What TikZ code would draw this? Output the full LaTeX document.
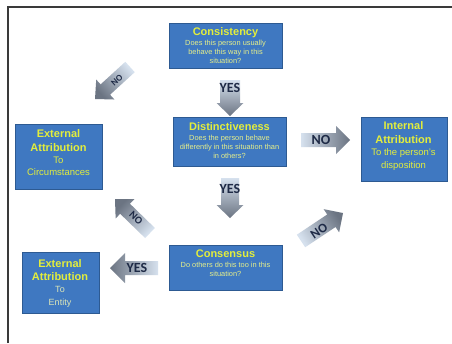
\documentclass[tikz,border=0pt]{standalone}
\usepackage{fontspec}
\setmainfont{Liberation Sans}
\newfontfamily\lblfont{Carlito}
\usetikzlibrary{calc}
\definecolor{boxfill}{HTML}{3F78C1}
\definecolor{boxline}{HTML}{2D5A92}
\definecolor{ttl}{HTML}{E3EE3C}
\definecolor{bdy}{HTML}{E6EF8A}
\definecolor{pale}{HTML}{DCE6B8}
\definecolor{arrtail}{HTML}{D6E1EE}
\definecolor{arrtip}{HTML}{6B7482}
\definecolor{lbl}{HTML}{1E2A46}
\definecolor{frameclr}{HTML}{3A3A3A}
\newcommand\ttlline[1]{{\fontsize{11}{11}\selectfont\bfseries\color{ttl}#1}}
\newcommand\blockarrow[6]{%
  \coordinate (#2-base) at ($(#2)!#5!(#1)$);
  \path[barrow, shading angle=#6]
    ($(#1)!#3!90:(#2)$) -- ($(#2-base)!#3!90:(#2)$) -- ($(#2-base)!#4!90:(#2)$)
    -- (#2) -- ($(#2-base)!#4!-90:(#2)$) -- ($(#2-base)!#3!-90:(#2)$)
    -- ($(#1)!#3!-90:(#2)$) -- cycle;
}
\begin{document}
\begin{tikzpicture}[x=1pt,y=-1pt,
  box/.style={draw=boxline, line width=0.8pt, fill=boxfill, inner sep=0pt},
  boxtext/.style={align=center, inner sep=0pt, text=bdy, font=\fontsize{7.4}{8.7}\selectfont},
  bigtext/.style={align=center, inner sep=0pt, text=ttl, font=\fontsize{9.5}{12.2}\selectfont},
  arrlabel/.style={text=lbl, font=\lblfont\bfseries\fontsize{14}{14}\selectfont, inner sep=0pt},
  barrow/.style={bottom color=arrtail, top color=arrtip, draw=none},
]
\fill[white] (0,0) rectangle (452,343);
\useasboundingbox (0,0) rectangle (452,343);
\coordinate (f1) at (8,343);
\coordinate (f2) at (8,7);
\coordinate (f3) at (452,7);
\draw[frameclr, line width=2pt] (f1) -- (f2) -- (f3);

% boxes
\node[box, minimum width=113pt, minimum height=45pt] (cons) at (225.5,45.5) {};
\node[box, minimum width=113pt, minimum height=49pt] (dist) at (229.5,141.5) {};
\node[box, minimum width=113pt, minimum height=45pt] (conse) at (225.5,267.5) {};
\node[box, minimum width=87pt, minimum height=65pt] (extc) at (58.5,156.5) {};
\node[box, minimum width=86pt, minimum height=64pt] (intl) at (404,149) {};
\node[box, minimum width=77pt, minimum height=61pt] (exte) at (60.5,282.5) {};

% box texts
\node[boxtext] (cons-t) at (225.5,45.5) {\ttlline{Consistency}\\[1.3pt]Does this person usually\\behave this way in this\\situation?};
\node[boxtext] (dist-t) at (229.5,140.5) {\ttlline{Distinctiveness}\\[1.3pt]Does the person behave\\differently in this situation than\\in others?};
\node[boxtext] (conse-t) at (225.5,263.5) {\ttlline{Consensus}\\[1.3pt]Do others do this too in this\\situation?};
\node[bigtext] (extc-t) at (58.5,153) {\ttlline{External}\\[1.5pt]\ttlline{Attribution}\\To\\Circumstances};
\node[bigtext] (intl-t) at (403.5,146) {\ttlline{Internal}\\[1.5pt]\ttlline{Attribution}\\To the person's\\disposition};
\node[bigtext, text=pale, font=\fontsize{9}{12.2}\selectfont] (exte-t) at (60,283) {\ttlline{External}\\[1.5pt]\ttlline{Attribution}\\To\\Entity};

% block arrows
\coordinate (a1t) at (230,80);  \coordinate (a1h) at (230,116);
\coordinate (a2t) at (230,178); \coordinate (a2h) at (230,218);
\coordinate (a3t) at (301,140); \coordinate (a3h) at (350,140);
\coordinate (a4t) at (158,268); \coordinate (a4h) at (110,268);
\coordinate (a5t) at (130,67);  \coordinate (a5h) at (95,99);
\coordinate (a6t) at (150,233); \coordinate (a6h) at (115,199);
\coordinate (a7t) at (301,241); \coordinate (a7h) at (343,213);
\blockarrow{a1t}{a1h}{10pt}{13.5pt}{13pt}{180}
\blockarrow{a2t}{a2h}{9pt}{13.5pt}{13pt}{180}
\blockarrow{a3t}{a3h}{7pt}{14pt}{14pt}{-90}
\blockarrow{a4t}{a4h}{7pt}{15pt}{15pt}{90}
\blockarrow{a5t}{a5h}{7pt}{13.5pt}{14pt}{132}
\blockarrow{a6t}{a6h}{7pt}{13.5pt}{14pt}{46}
\blockarrow{a7t}{a7h}{7.5pt}{14pt}{14pt}{-56}

% arrow labels
\node[arrlabel] (l1) at (230,88) {YES};
\node[arrlabel] (l2) at (230,189) {YES};
\node[arrlabel] (l3) at (321,140) {NO};
\node[arrlabel] (l4) at (137,268) {YES};
\node[arrlabel, font=\lblfont\bfseries\fontsize{9}{9}\selectfont, rotate=42] (l5) at (117,80) {NO};
\node[arrlabel, font=\lblfont\bfseries\fontsize{10.5}{10.5}\selectfont, rotate=-44] (l6) at (136,218) {NO};
\node[arrlabel, font=\lblfont\bfseries\fontsize{13}{13}\selectfont, rotate=34] (l7) at (319,231) {NO};
\end{tikzpicture}
\end{document}
